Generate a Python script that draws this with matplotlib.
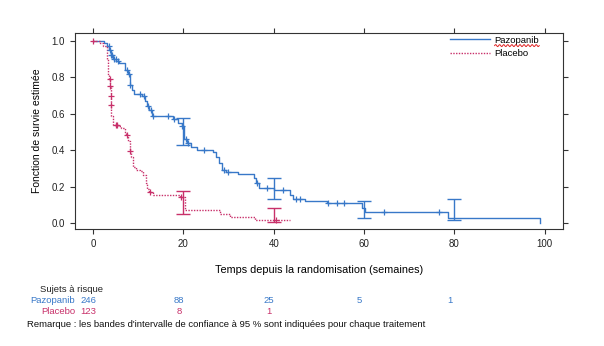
import numpy as np
import matplotlib
matplotlib.use("Agg")
import matplotlib.pyplot as plt
from matplotlib.transforms import blended_transform_factory

plt.rcParams['font.family'] = ['Liberation Sans', 'DejaVu Sans']

# Kaplan-Meier step values (weeks, survival)
pazo_t = [0, 2.5, 3.2, 3.6, 4.0, 4.4, 5.2, 5.8, 7.0, 7.8, 8.1, 8.6, 9.0, 10.8, 11.5,
          12.0, 12.4, 13.0, 16.5, 17.8, 18.8, 19.6, 20.1, 20.8, 21.6, 23.0, 26.6,
          27.3, 27.9, 28.5, 29.5, 32.0, 35.6, 36.0, 36.8, 40.0, 43.5, 44.2, 47.0,
          51.8, 59.5, 60.3, 78.6, 99.0]
pazo_s = [1.0, 0.99, 0.97, 0.95, 0.92, 0.90, 0.89, 0.88, 0.84, 0.82, 0.76, 0.73,
          0.71, 0.70, 0.67, 0.64, 0.62, 0.59, 0.585, 0.57, 0.55, 0.53, 0.46, 0.44,
          0.42, 0.40, 0.39, 0.36, 0.33, 0.29, 0.28, 0.27, 0.25, 0.22, 0.19, 0.183,
          0.155, 0.13, 0.12, 0.11, 0.085, 0.06, 0.028, 0.0]
pazo_cens = [3.5, 3.8, 4.1, 4.3, 4.7, 5.0, 5.5, 7.5, 8.0, 8.3, 10.5, 11.2, 12.2,
             12.8, 13.3, 16.5, 18.0, 19.8, 20.5, 21.0, 24.5, 29.0, 29.8, 36.2,
             38.5, 42.0, 45.0, 45.8, 52.0, 54.0, 55.5, 64.5, 76.5]

plac_t = [0, 1.5, 2.2, 3.0, 3.3, 3.6, 3.8, 3.9, 4.0, 4.1, 4.4, 5.5, 6.3, 7.0, 7.4,
          7.8, 8.1, 8.5, 8.9, 9.6, 10.4, 11.1, 11.7, 12.0, 12.4, 13.3, 19.3, 20.4,
          28.1, 30.4, 35.9, 43.7]
plac_s = [1.0, 0.99, 0.97, 0.90, 0.81, 0.79, 0.75, 0.70, 0.65, 0.59, 0.54, 0.535,
          0.52, 0.495, 0.485, 0.45, 0.395, 0.36, 0.31, 0.29, 0.285, 0.265, 0.22,
          0.185, 0.17, 0.155, 0.143, 0.073, 0.05, 0.033, 0.015, 0.015]
plac_cens = [0.0, 3.7, 3.85, 3.95, 4.05, 5.0, 5.3, 7.6, 8.2, 12.6, 19.5, 40.5]

# 95 % confidence bands at selected times
ci_t = [20, 40, 60, 80]
pazo_lo = [0.431, 0.132, 0.027, 0.015]
pazo_hi = [0.578, 0.248, 0.120, 0.130]
plac_ci_t = [20, 40]
plac_lo = [0.05, 0.004]
plac_hi = [0.178, 0.083]

# numbers at risk
risk_t = [0, 20, 40, 60, 80]
pazo_risk = ['246', '88', '25', '5', '1']
plac_risk = ['123', '8', '1']

blue = '#3878C8'
red = '#C8306A'


def step_at(t, times, surv):
    i = np.searchsorted(times, t, side='right') - 1
    return np.asarray(surv)[i]


fig = plt.figure(figsize=(6.04, 3.46), dpi=100)
ax = fig.add_axes([0.124, 0.338, 0.808, 0.567])

ax.step(pazo_t, pazo_s, where='post', color=blue, lw=1.0, label='Pazopanib')
ax.step(plac_t, plac_s, where='post', color=red, lw=1.0, ls=(0, (1, 1)),
        label='Placebo')

ax.plot(pazo_cens, step_at(pazo_cens, pazo_t, pazo_s), '+', color=blue,
        ms=5, mew=0.9)
ax.plot(plac_cens, step_at(plac_cens, plac_t, plac_s), '+', color=red,
        ms=5, mew=0.9)

pm = (np.array(pazo_lo) + np.array(pazo_hi)) / 2
ax.errorbar(ci_t, pm, yerr=(np.array(pazo_hi) - np.array(pazo_lo)) / 2,
            fmt='none', ecolor=blue, elinewidth=1.0, capsize=5, capthick=1.0)
rm = (np.array(plac_lo) + np.array(plac_hi)) / 2
ax.errorbar(plac_ci_t, rm, yerr=(np.array(plac_hi) - np.array(plac_lo)) / 2,
            fmt='none', ecolor=red, elinewidth=1.0, capsize=5, capthick=1.0)

ax.set_xlim(-4, 104)
ax.set_ylim(-0.033, 1.044)
ax.set_xticks([0, 20, 40, 60, 80, 100])
ax.set_yticks([0, 0.2, 0.4, 0.6, 0.8, 1.0])
ax.set_yticklabels(['0.0', '0.2', '0.4', '0.6', '0.8', '1.0'])
ax.tick_params(direction='out', length=3.5, width=0.8, labelsize=7,
               top=True, right=True, colors='#333333', labelcolor='#222222')
for sp in ax.spines.values():
    sp.set_linewidth(0.8)
    sp.set_color('#333333')

ax.set_ylabel('Fonction de survie estimée', fontsize=7.5, labelpad=7)
ax.set_xlabel('Temps depuis la randomisation (semaines)', fontsize=7.8,
              labelpad=12)

leg = ax.legend(loc='upper right', bbox_to_anchor=(0.965, 1.02), frameon=False,
                fontsize=6.8, handlelength=4.2, handletextpad=0.5,
                labelspacing=0.45, borderpad=0.2)

# spell-check squiggle under the first legend entry
lt = leg.get_texts()[0]
fig.canvas.draw()
bb = lt.get_window_extent(renderer=fig.canvas.get_renderer())
bb = bb.transformed(fig.transFigure.inverted())
wx = np.linspace(bb.x0, bb.x1, 60)
wy = bb.y0 - 0.003 + 0.003 * np.sin(np.linspace(0, 22 * np.pi, 60))
fig.add_artist(plt.Line2D(wx, wy, color='#E02020', lw=0.7,
                          transform=fig.transFigure))

# at-risk table
tr = blended_transform_factory(ax.transData, fig.transFigure)
fs = 6.8
fig.text(0.066, 0.156, 'Sujets à risque', fontsize=fs, color='#222222')
fig.text(0.124, 0.124, 'Pazopanib', fontsize=fs, color=blue, ha='right')
fig.text(0.124, 0.092, 'Placebo', fontsize=fs, color=red, ha='right')
for t, n in zip(risk_t, pazo_risk):
    ax.text(t - 1, 0.124, n, transform=tr, fontsize=fs, color=blue, ha='center')
for t, n in zip(risk_t, plac_risk):
    ax.text(t - 1, 0.092, n, transform=tr, fontsize=fs, color=red, ha='center')
fig.text(0.045, 0.054,
         "Remarque : les bandes d'intervalle de confiance à 95 % sont "
         "indiquées pour chaque traitement", fontsize=fs, color='#111111')

fig.savefig('out.png', dpi=100)
